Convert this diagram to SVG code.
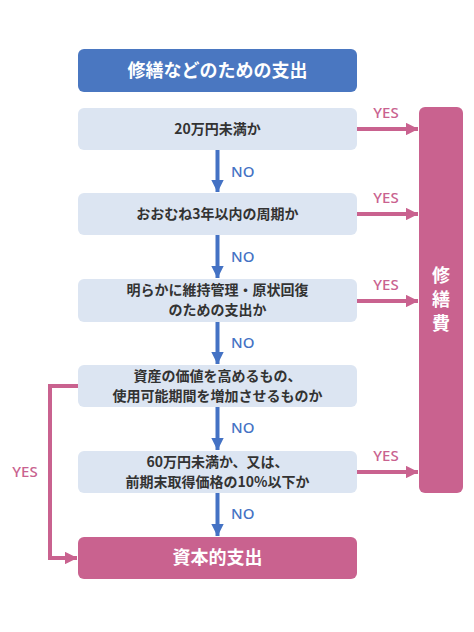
<svg xmlns="http://www.w3.org/2000/svg" width="474" height="632" viewBox="0 0 474 632">
<style>
.q{fill:#dce5f2}
.t{font-family:"Noto Sans CJK JP","Noto Sans",sans-serif;font-weight:bold;font-size:14px;fill:#333;text-anchor:middle}
.w{font-family:"Noto Sans CJK JP","Noto Sans",sans-serif;font-weight:bold;font-size:18px;fill:#fff;text-anchor:middle}
.v{writing-mode:vertical-rl;letter-spacing:6px}
.no{font-family:"Noto Sans","Noto Sans CJK JP",sans-serif;font-weight:500;font-size:15px;fill:#4472c4}
.yes{font-family:"Noto Sans","Noto Sans CJK JP",sans-serif;font-weight:500;font-size:15px;fill:#c9628f;text-anchor:middle}
.b{stroke:#4472c4;stroke-width:4;fill:none}
.p{stroke:#c9628f;stroke-width:4;fill:none}
</style>
<defs>
<marker id="ab" markerWidth="3.2" markerHeight="3.2" refX="3.1" refY="1.6" orient="auto" markerUnits="strokeWidth"><path d="M0,0L3.2,1.6L0,3.2z" fill="#4472c4"/></marker>
<marker id="ap" markerWidth="3.2" markerHeight="3.2" refX="3.1" refY="1.6" orient="auto" markerUnits="strokeWidth"><path d="M0,0L3.2,1.6L0,3.2z" fill="#c9628f"/></marker>
</defs>
<rect width="474" height="632" fill="#fff"/>
<g id="title"><rect x="78" y="49" width="279" height="43" rx="6" fill="#4a77c1"/><text class="w" x="217.5" y="77">修繕などのための支出</text></g>
<g id="q1"><rect class="q" x="78" y="108" width="279" height="42" rx="6"/><text class="t" x="217.5" y="134">20万円未満か</text></g>
<g id="q2"><rect class="q" x="78" y="193" width="279" height="42" rx="6"/><text class="t" x="217.5" y="219">おおむね3年以内の周期か</text></g>
<g id="q3"><rect class="q" x="78" y="279" width="279" height="43" rx="6"/><text class="t" x="217.5" y="295">明らかに維持管理・原状回復</text><text class="t" x="217.5" y="314.5">のための支出か</text></g>
<g id="q4"><rect class="q" x="78" y="365" width="279" height="42" rx="6"/><text class="t" x="217.5" y="381">資産の価値を高めるもの、</text><text class="t" x="217.5" y="400.5">使用可能期間を増加させるものか</text></g>
<g id="q5"><rect class="q" x="78" y="451" width="279" height="42" rx="6"/><text class="t" x="217.5" y="467">60万円未満か、又は、</text><text class="t" x="217.5" y="486.5">前期末取得価格の10%以下か</text></g>
<g id="capital"><rect x="78" y="537" width="279" height="42" rx="6" fill="#c9628f"/><text class="w" x="217.5" y="564">資本的支出</text></g>
<g id="repair"><rect x="419" y="107" width="44" height="386" rx="6" fill="#c9628f"/><text class="w v" x="441" y="302">修繕費</text></g>
<g id="connectors">
<path class="b" d="M217.5,150V192" marker-end="url(#ab)"/>
<path class="b" d="M217.5,235V278" marker-end="url(#ab)"/>
<path class="b" d="M217.5,322V364" marker-end="url(#ab)"/>
<path class="b" d="M217.5,407V450" marker-end="url(#ab)"/>
<path class="b" d="M217.5,493V536" marker-end="url(#ab)"/>
<text class="no" x="231" y="177">NO</text>
<text class="no" x="231" y="262">NO</text>
<text class="no" x="231" y="348">NO</text>
<text class="no" x="231" y="433">NO</text>
<text class="no" x="231" y="519">NO</text>
<path class="p" d="M357,129H418" marker-end="url(#ap)"/>
<path class="p" d="M357,214H418" marker-end="url(#ap)"/>
<path class="p" d="M357,301H418" marker-end="url(#ap)"/>
<path class="p" d="M357,472H418" marker-end="url(#ap)"/>
<text class="yes" x="386" y="118">YES</text>
<text class="yes" x="386" y="203">YES</text>
<text class="yes" x="386" y="290">YES</text>
<text class="yes" x="386" y="461">YES</text>
<path class="p" d="M78,386H50V558H77" marker-end="url(#ap)"/>
<text class="yes" x="25" y="477">YES</text>
</g>
</svg>
